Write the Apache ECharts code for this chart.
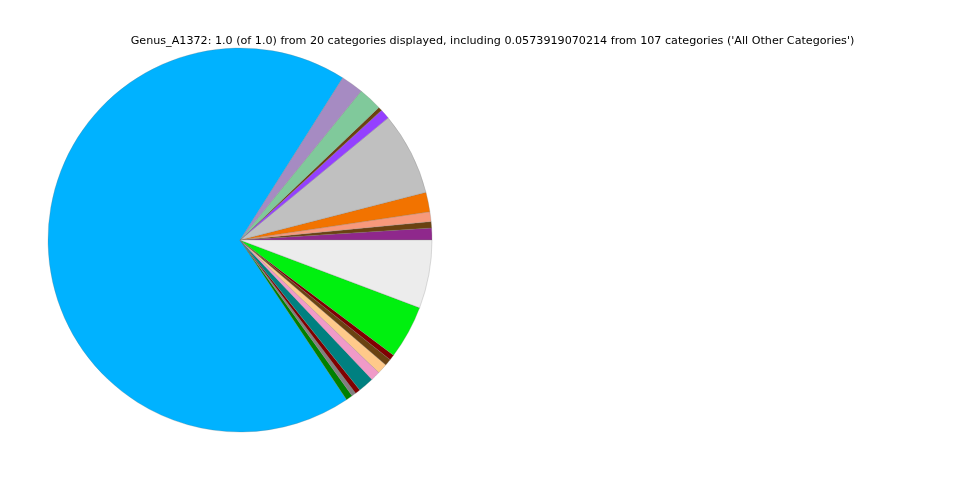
<!DOCTYPE html>
<html>
<head>
<meta charset="utf-8">
<script src="https://cdn.jsdelivr.net/npm/echarts@6/dist/echarts.min.js"></script>
<style>html,body{margin:0;padding:0;background:#fff;}#chart{width:960px;height:480px;}</style>
</head>
<body>
<div id="chart"></div>
<script>
var titleText = "Genus_A1372: 1.0 (of 1.0) from 20 categories displayed, including 0.0573919070214 from 107 categories ('All Other Categories')";
var categories = ["Genus 1","Genus 2","Genus 3","Genus 4","Genus 5","Genus 6","Genus 7","Genus 8","Genus 9","Genus 10",
  "Genus 11","Genus 12","Genus 13","Genus 14","Genus 15","Genus 16","Genus 17","Genus 18","Genus 19","All Other Categories"];
var values = [0.0100,0.0053,0.0083,0.0164,0.0697,0.0083,0.0033,0.0200,0.0189,0.6833,
  0.0056,0.0036,0.0044,0.0133,0.0081,0.0086,0.0056,0.0047,0.0450,0.0574];
var colors = ["#8f288c","#6b4211","#f7997c","#f27300","#c0c0c0","#9440ff","#6b4211","#80c99b","#a68bc2","#00b2ff",
  "#008000","#808080","#800000","#008080","#f09ac8","#ffc98a","#6b4211","#800000","#00f00f","#ececec"];

var chart = echarts.init(document.getElementById('chart'), null, {renderer:'canvas'});
chart.setOption({
  animation:false,
  title:{text:titleText,left:487.5,top:31,textAlign:'center',
    textStyle:{fontFamily:'DejaVu Sans',fontSize:11.15,fontWeight:'normal',color:'#000'}},
  series:[{
    type:'pie',
    center:[240,240],
    radius:192,
    startAngle:0,
    clockwise:false,
    label:{show:false},
    labelLine:{show:false},
    emphasis:{disabled:true},
    itemStyle:{borderColor:'rgba(120,120,120,0.5)',borderWidth:0.5},
    data:categories.map(function(c,i){return {name:c,value:values[i],itemStyle:{color:colors[i]}};})
  }]
});
</script>
</body>
</html>
